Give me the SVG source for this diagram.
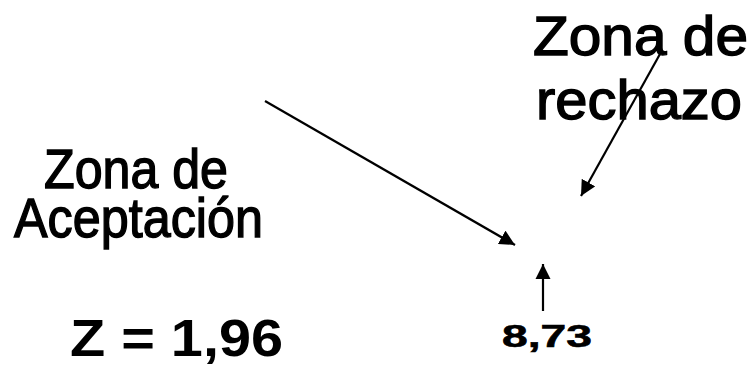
<svg xmlns="http://www.w3.org/2000/svg" width="753" height="367" viewBox="0 0 753 367">
<style>
.t{font-family:"Liberation Sans",Arial,sans-serif;fill:#000;}
.big{font-size:56px;stroke:#000;stroke-width:1.4;}
.b{font-weight:bold;}
.c{stroke:#000;stroke-width:2.2;fill:none;}
</style>
<defs>
<marker id="ah" viewBox="0 0 10 10" refX="10" refY="5" markerWidth="7" markerHeight="7" markerUnits="strokeWidth" orient="auto">
<path d="M0,0 L10,5 L0,10 z" fill="#000"/>
</marker>
</defs>
<rect width="753" height="367" fill="#fff"/>
<g id="rechazo">
<text class="t big" x="533" y="55" textLength="215" lengthAdjust="spacingAndGlyphs">Zona de</text>
<text class="t big" x="536" y="119" textLength="206" lengthAdjust="spacingAndGlyphs">rechazo</text>
</g>
<g id="aceptacion">
<text class="t big" x="44" y="188" textLength="184" lengthAdjust="spacingAndGlyphs">Zona de</text>
<text class="t big" x="14" y="237" textLength="249" lengthAdjust="spacingAndGlyphs">Aceptación</text>
</g>
<g id="z">
<text class="t b" font-size="52" x="70" y="356" textLength="213" lengthAdjust="spacingAndGlyphs">Z = 1,96</text>
</g>
<g id="valor">
<text class="t b" font-size="31" stroke="#000" stroke-width="0.6" x="502" y="347" textLength="90" lengthAdjust="spacingAndGlyphs">8,73</text>
</g>
<g id="connectors">
<line class="c" x1="265" y1="101" x2="515" y2="245" marker-end="url(#ah)"/>
<line class="c" x1="660" y1="54" x2="581" y2="196" marker-end="url(#ah)"/>
<line class="c" x1="543" y1="311" x2="543" y2="264" marker-end="url(#ah)"/>
</g>
</svg>
